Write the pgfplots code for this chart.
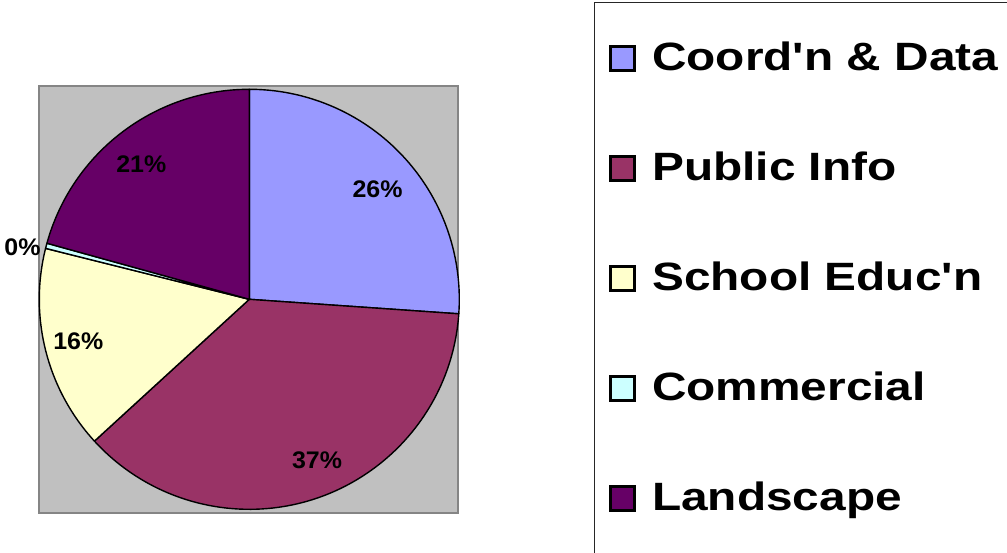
\documentclass[border=0pt]{standalone}
\usepackage{pgfplots}
\usepackage{pgfplotstable}
\usepackage{graphicx}
\pgfplotsset{compat=1.18}
\usepackage{fontspec}
\setmainfont{Liberation Sans}

\definecolor{pie0}{HTML}{9999FF}
\definecolor{pie1}{HTML}{993366}
\definecolor{pie2}{HTML}{FFFFCC}
\definecolor{pie3}{HTML}{CCFFFF}
\definecolor{pie4}{HTML}{660066}
\definecolor{plotgrey}{HTML}{C0C0C0}
\definecolor{framegrey}{HTML}{858585}

% value (percent), label angle adjustment (deg), label distance (axis units)
\pgfplotstableread{
value labadj labrad
26.1  -2.5   168.7
37.1   3.6   174.5
15.7  -0.3   176.2
0.4    1.8   232.8
20.7   1.4   173.0
}\piedata

\newcommand\pctfont{\fontsize{24}{24}\selectfont\bfseries}
\newcommand\legfont{\fontsize{39.5}{39.5}\selectfont\bfseries}

\begin{document}
\begin{tikzpicture}[x=1pt,y=1pt]
\useasboundingbox (0,0) rectangle (1007,-552);
\clip (0,0) rectangle (1007,-552);

\begin{axis}[
  at={(39.3pt,-513.3pt)}, anchor=south west,
  scale only axis, x=1pt, y=1pt,
  xmin=-210, xmax=209, ymin=-214, ymax=213,
  xtick=\empty, ytick=\empty,
  axis line style={draw=framegrey, line width=2pt},
  axis background/.style={fill=plotgrey},
  clip=false,
]
\xdef\curang{90}
\pgfplotsinvokeforeach{0,...,4}{
  \pgfplotstablegetelem{#1}{value}\of\piedata
  \let\val\pgfplotsretval
  \pgfplotstablegetelem{#1}{labadj}\of\piedata
  \let\ladj\pgfplotsretval
  \pgfplotstablegetelem{#1}{labrad}\of\piedata
  \let\lrad\pgfplotsretval
  \pgfmathsetmacro{\endang}{\curang-3.6*\val}
  \pgfmathsetmacro{\midang}{(\curang+\endang)/2+\ladj}
  \pgfmathsetmacro{\sx}{210*cos(\curang)}
  \pgfmathsetmacro{\sy}{210*sin(\curang)}
  \pgfmathsetmacro{\lx}{\lrad*cos(\midang)}
  \pgfmathsetmacro{\ly}{\lrad*sin(\midang)}
  \pgfmathparse{int(round(\val))}\edef\pct{\pgfmathresult}
  \edef\temp{\noexpand\filldraw[fill=pie#1, draw=black, line width=1.4pt, line join=round]
      (axis cs:0,0) -- (axis cs:\sx,\sy) arc[start angle=\curang, end angle=\endang, radius=210pt] -- cycle;
    \noexpand\node[inner sep=0pt, text=black] at (axis cs:\lx,\ly)
      {\noexpand\pctfont\noexpand\scalebox{1.04}[1]{\pct\noexpand\%}};}
  \temp
  \xdef\curang{\endang}
}
\end{axis}

% legend
\draw[line width=1.6pt, draw=black!85] (594.5,-2.5) rectangle (1100,-600);
\foreach \i/\txt in {0/{Coord\textquotesingle n \& Data},1/{Public Info},2/{School Educ\textquotesingle n},3/{Commercial},4/{Landscape}}{
  \pgfmathsetmacro{\yc}{58.5+110*\i}
  \filldraw[fill=pie\i, draw=black, line width=2.5pt] (610.5,-\yc+12) rectangle (634.5,-\yc-12);
  \node[anchor=base west, inner sep=0pt] at (652,-\yc-11.5) {\legfont\scalebox{1.21}[1]{\txt}};
}
\end{tikzpicture}
\end{document}
